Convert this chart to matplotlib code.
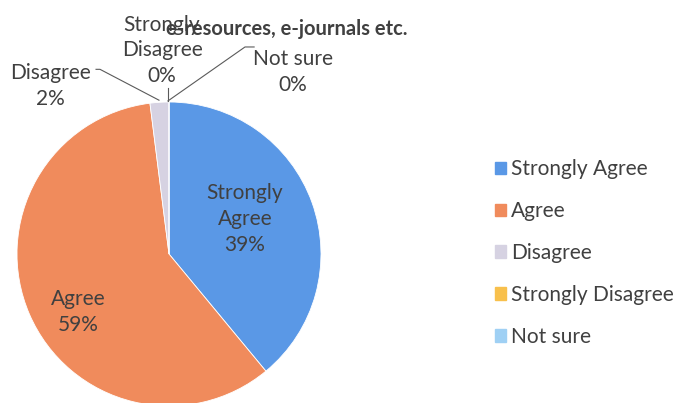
import matplotlib
matplotlib.use("Agg")
import matplotlib.pyplot as plt

plt.rcParams['font.family'] = ['Lato', 'DejaVu Sans']

categories = ["Strongly Agree", "Agree", "Disagree", "Strongly Disagree", "Not sure"]
values = [39, 59, 2, 0, 0]
colors = ["#5A98E6", "#F08B5C", "#D6D2E2", "#F8C04C", "#9FD0F4"]
title = "e-resources, e-journals etc."

fig = plt.figure(figsize=(6.81, 4.03), dpi=100)
# pie centre (169, 254) px, radius 152 px
ax = fig.add_axes([17 / 681, (403 - 254 - 152) / 403, 304 / 681, 304 / 403])
wedges, _ = ax.pie(values, colors=colors, startangle=90, counterclock=False,
                   radius=1.0, center=(0, 0),
                   wedgeprops=dict(edgecolor="white", linewidth=0.6))
ax.set_xlim(-1, 1)
ax.set_ylim(-1, 1)
ax.axis("off")

txt = "#404040"
fs = 15
ls = 1.35

def pct(v):
    return f"{round(v / sum(values) * 100)}%"

# inside labels
ax.text(0.50, 0.23, f"Strongly\nAgree\n{pct(values[0])}", ha="center", va="center",
        fontsize=fs, color=txt, linespacing=ls)
ax.text(-0.60, -0.38, f"Agree\n{pct(values[1])}", ha="center", va="center",
        fontsize=fs, color=txt, linespacing=ls)

# outside labels with leader lines
line_kw = dict(color="#5a5a5a", lw=0.8)
ax.text(-0.78, 1.105, f"Disagree\n{pct(values[2])}", ha="center", va="center",
        fontsize=fs, color=txt, linespacing=ls, clip_on=False)
ax.plot([-0.48, -0.454, -0.066], [1.215, 1.215, 1.012], clip_on=False, **line_kw)

ax.text(-0.046, 1.34, f"Strongly\nDisagree\n{pct(values[3])}", ha="center", va="center",
        fontsize=fs, color=txt, linespacing=ls, clip_on=False)
ax.plot([-0.007, -0.007], [1.09, 1.007], clip_on=False, **line_kw)

ax.text(0.816, 1.197, f"Not sure\n{pct(values[4])}", ha="center", va="center",
        fontsize=fs, color=txt, linespacing=ls, clip_on=False)
ax.plot([0.56, 0.50, -0.007], [1.362, 1.362, 1.007], clip_on=False, **line_kw)

fig.text(287 / 681, 1 - 29 / 403, title, ha="center", va="center",
         fontsize=14.5, fontweight="bold", color=txt)

handles = [plt.Rectangle((0, 0), 1, 1, color=c) for c in colors]
fig.legend(handles, categories, loc="center left", bbox_to_anchor=(0.699, 0.372),
           frameon=False, fontsize=15, labelcolor=txt,
           handlelength=0.55, handleheight=0.55, handletextpad=0.25,
           labelspacing=1.05)

fig.savefig("out.png", dpi=100)
